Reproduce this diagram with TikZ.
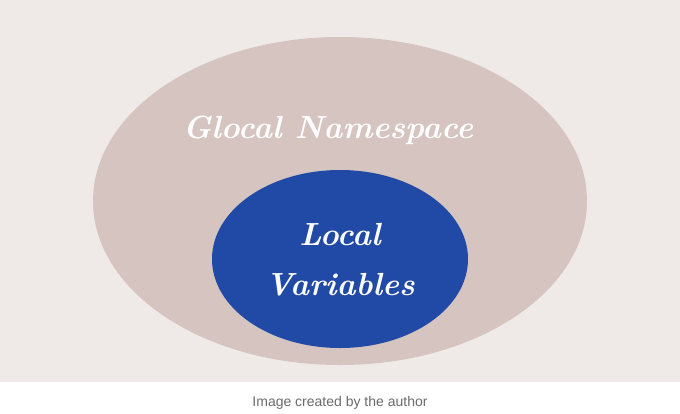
\documentclass[tikz,border=0pt]{standalone}
\usepackage{fontspec}
\setmainfont{Latin Modern Roman}
\newfontfamily\capfont{Liberation Sans}
\definecolor{bgc}{HTML}{EFEAE7}
\definecolor{outerc}{HTML}{D5C4BF}
\definecolor{innerc}{HTML}{214AA6}
\definecolor{capc}{HTML}{6B6B6B}
\begin{document}
\begin{tikzpicture}[x=1pt,y=-1pt,
  lbl/.style={text=white,font=\fontsize{32}{40}\selectfont\bfseries\itshape,align=center},
  ell/.style={draw=none,ellipse}]
\useasboundingbox (0,0) rectangle (680,413);
\fill[white] (0,0) rectangle (680,413);
\fill[bgc] (0,0) rectangle (680,382);
\fill[outerc] (340,201) ellipse [x radius=247, y radius=164];
\fill[innerc] (340,259) ellipse [x radius=128, y radius=89];
\node[lbl] (glob) at (328,130) {Glocal Namespace};
\node[lbl,font=\fontsize{32}{50}\selectfont\bfseries\itshape] (loc) at (340,260) {Local\\Variables};
\node[text=capc,font=\capfont\fontsize{14}{16}\selectfont] (cap) at (340,403) {Image created by the author};
\end{tikzpicture}
\end{document}
